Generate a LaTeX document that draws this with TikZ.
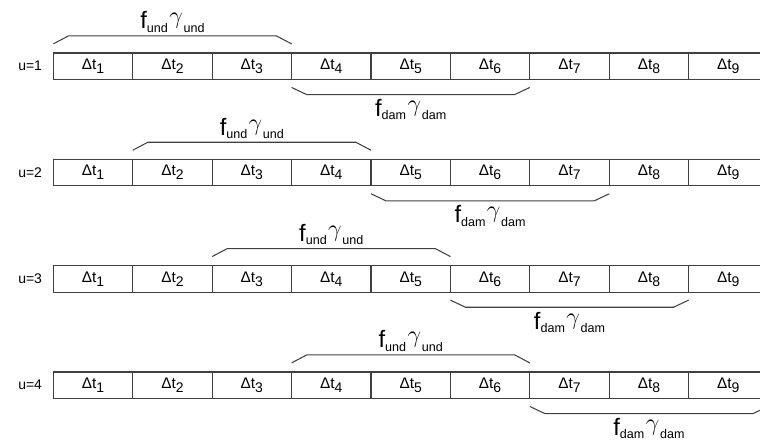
\documentclass[tikz,border=0pt]{standalone}
\usepackage{fontspec}
\setmainfont{Liberation Sans}
\usetikzlibrary{positioning,calc}

\newcommand{\dtcell}[1]{Δt\raisebox{-3pt}{\fontsize{10}{10}\selectfont #1}}
\newcommand{\fgam}[1]{{\fontsize{17}{17}\selectfont f}\raisebox{-2.5pt}{\fontsize{9}{9}\selectfont #1}%
  \hspace{1pt}\raisebox{3.6pt}{\fontsize{17}{17}\selectfont$\gamma$}\hspace{0.5pt}\raisebox{-2.5pt}{\fontsize{9}{9}\selectfont #1}}

\tikzset{
  cell/.style={draw=black!75, line width=0.75pt, minimum width=2cm, minimum height=0.667cm,
    inner sep=0pt, outer sep=0pt, anchor=north west, font=\fontsize{11}{11}\selectfont},
  ulabel/.style={font=\fontsize{10}{10}\selectfont, inner sep=0pt},
  brk/.style={draw=black!75, line width=0.75pt},
  flabel/.style={inner sep=0pt, anchor=base}
}

\begin{document}
\begin{tikzpicture}
  \clip (0,0) rectangle (19.14,-11.235);
  % the four rows of time steps
  \foreach \u in {1,...,4} {
    \foreach \i in {1,...,9}
      \node[cell] (c\u-\i) at ({1.343+(\i-1)*2},{-1.335-(\u-1)*2.678}) {\dtcell{\i}};
    \node[ulabel, left=0.28cm of c\u-1] (u\u) {u=\u};
  }
  % brackets over and under the rows
  \foreach \u/\a/\b/\c/\d in {1/1/3/4/6, 2/2/4/5/7, 3/3/5/6/8, 4/4/6/7/9} {
    \draw[brk] ([yshift=0.23cm]c\u-\a.north west) -- ++(0.38,0.2)
      -- ([xshift=-0.38cm,yshift=0.43cm]c\u-\b.north east) -- ([yshift=0.23cm]c\u-\b.north east);
    \node[flabel] (fu\u) at ($(c\u-\a.north west)!0.5!(c\u-\b.north east)+(0,0.61)$) {\fgam{und}};
    \draw[brk] ([yshift=-0.2cm]c\u-\c.south west) -- ++(0.38,-0.18)
      -- ([xshift=-0.38cm,yshift=-0.38cm]c\u-\d.south east) -- ([yshift=-0.2cm]c\u-\d.south east);
    \node[flabel] (fd\u) at ($(c\u-\c.south west)!0.5!(c\u-\d.south east)+(0,-0.93)$) {\fgam{dam}};
  }
\end{tikzpicture}
\end{document}
